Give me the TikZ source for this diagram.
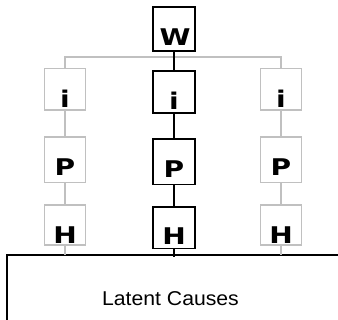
\documentclass[tikz,border=0pt]{standalone}
\usepackage{fontspec}
\setmainfont{Liberation Sans}
\newfontfamily\letterfont{DejaVu Sans}
\definecolor{faint}{RGB}{192,192,192}
\newcommand{\widebold}[1]{\scalebox{1.22}[1]{#1}}

\begin{document}
\begin{tikzpicture}[x=1pt,y=-1pt,
  frame/.style={draw=black, line width=1.8pt, inner sep=0pt, outer sep=0pt,
                minimum width=42pt, rectangle},
  faintframe/.style={draw=faint, line width=1.8pt, inner sep=0pt, outer sep=0pt,
                minimum width=41pt, rectangle},
  letter/.style={anchor=base, inner sep=0pt,
                 font=\letterfont\bfseries\fontsize{23}{24}\selectfont},
  link/.style={draw=black, line width=1.8pt},
  faintlink/.style={draw=faint, line width=1.8pt},
  caption/.style={anchor=base, inner sep=0pt, font=\fontsize{20}{22}\selectfont}]

\useasboundingbox (0,0) rectangle (338,320);

% top node
\node[frame, minimum height=44pt] (w) at (174,29) {};
\node[letter] (wt) at (175,45.5) {\widebold{W}};

% side columns (grey)
\node[faintframe, minimum height=41.5pt] (il) at (65,89.25) {};
\node[faintframe, minimum height=45.5pt] (pl) at (65,159.75) {};
\node[faintframe, minimum height=40pt]   (hl) at (65,225) {};
\node[faintframe, minimum height=41.5pt] (ir) at (281,89.25) {};
\node[faintframe, minimum height=45.5pt] (pr) at (281,159.75) {};
\node[faintframe, minimum height=40pt]   (hr) at (281,225) {};

% middle column (black)
\node[frame, minimum height=42pt]   (ic) at (174,92) {};
\node[frame, minimum height=45.5pt] (pc) at (174,161.75) {};
\node[frame, minimum height=41.5pt] (hc) at (174,227.75) {};

% letters
\node[letter] (ilt) at (65,108)    {\widebold{i}};
\node[letter] (plt) at (65,176)    {\widebold{P}};
\node[letter] (hlt) at (65,243.5)  {\widebold{H}};
\node[letter] (irt) at (281,108)   {\widebold{i}};
\node[letter] (prt) at (281,176)   {\widebold{P}};
\node[letter] (hrt) at (281,243.5) {\widebold{H}};
\node[letter] (ict) at (174,109.5) {\widebold{i}};
\node[letter] (pct) at (174,177.5) {\widebold{P}};
\node[letter] (hct) at (174,245)   {\widebold{H}};

% latent causes region
\coordinate (lcl) at (7,255);
\coordinate (lcr) at (338,255);
\coordinate (lcb) at (7,320);
\draw[line width=1.8pt] (lcb) -- (lcl) -- (lcr);
\node[caption] (lc) at (170.5,305.5) {\scalebox{1.06}[1]{Latent Causes}};

% grey connectors
\coordinate (barl) at (65,57);
\coordinate (barr) at (281,57);
\coordinate (hlend) at (65,255);
\coordinate (hrend) at (281,255);
\path[faintlink] (il.north) -- (barl) -- (barr) -- (ir.north);
\path[faintlink] (il.south) -- (pl.north);
\path[faintlink] (pl.south) -- (hl.north);
\path[faintlink] (hl.south) -- (hlend);
\path[faintlink] (ir.south) -- (pr.north);
\path[faintlink] (pr.south) -- (hr.north);
\path[faintlink] (hr.south) -- (hrend);

% black connectors
\coordinate (hcend) at (174,257);
\path[link] (w.south) -- (ic.north);
\path[link] (ic.south) -- (pc.north);
\path[link] (pc.south) -- (hc.north);
\path[link] (hc.south) -- (hcend);
\end{tikzpicture}
\end{document}
